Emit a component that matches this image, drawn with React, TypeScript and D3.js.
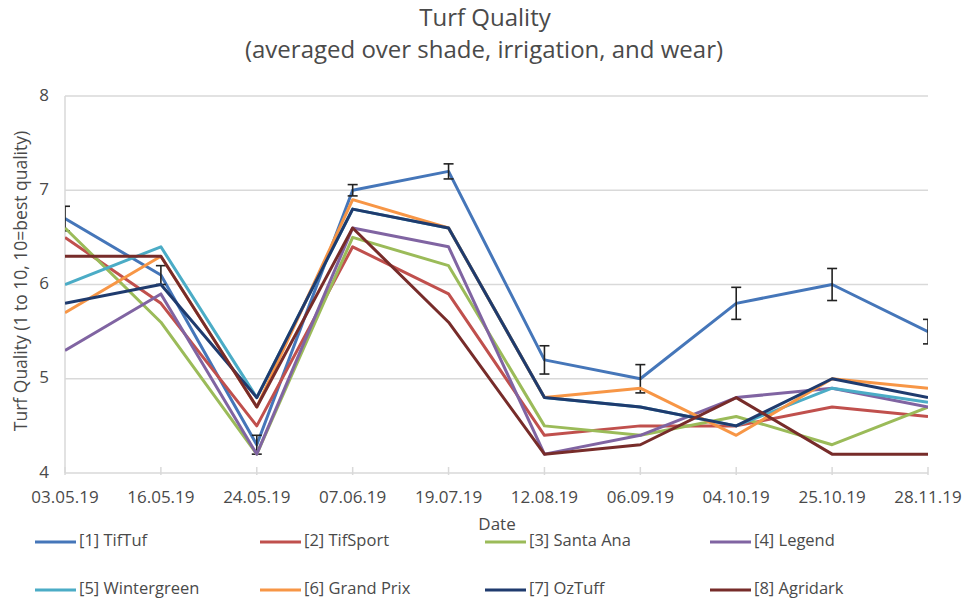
import * as React from 'react';
import * as d3 from 'd3';

// category labels (x axis)
const DATES = [
  '03.05.19', '16.05.19', '24.05.19', '07.06.19', '19.07.19',
  '12.08.19', '06.09.19', '04.10.19', '25.10.19', '28.11.19',
];

const Y_TICKS = [4, 5, 6, 7, 8];

// series values
const TIFTUF = [6.7, 6.1, 4.3, 7.0, 7.2, 5.2, 5.0, 5.8, 6.0, 5.5];
const TIFTUF_ERR = [0.13, 0.1, 0.1, 0.06, 0.08, 0.15, 0.15, 0.17, 0.17, 0.13];
const TIFSPORT = [6.5, 5.8, 4.5, 6.4, 5.9, 4.4, 4.5, 4.5, 4.7, 4.6];
const SANTA_ANA = [6.6, 5.6, 4.2, 6.5, 6.2, 4.5, 4.4, 4.6, 4.3, 4.7];
const LEGEND = [5.3, 5.9, 4.2, 6.6, 6.4, 4.2, 4.4, 4.8, 4.9, 4.7];
const WINTERGREEN = [6.0, 6.4, 4.8, 6.8, 6.6, 4.8, 4.7, 4.5, 4.9, 4.75];
const GRAND_PRIX = [5.7, 6.3, 4.7, 6.9, 6.6, 4.8, 4.9, 4.4, 5.0, 4.9];
const OZTUFF = [5.8, 6.0, 4.8, 6.8, 6.6, 4.8, 4.7, 4.5, 5.0, 4.8];
const AGRIDARK = [6.3, 6.3, 4.7, 6.6, 5.6, 4.2, 4.3, 4.8, 4.2, 4.2];

const SERIES = [
  { name: '[1] TifTuf', color: '#4576b9', values: TIFTUF },
  { name: '[2] TifSport', color: '#c0504d', values: TIFSPORT },
  { name: '[3] Santa Ana', color: '#9bbb59', values: SANTA_ANA },
  { name: '[4] Legend', color: '#8064a2', values: LEGEND },
  { name: '[5] Wintergreen', color: '#4bacc6', values: WINTERGREEN },
  { name: '[6] Grand Prix', color: '#f79646', values: GRAND_PRIX },
  { name: '[7] OzTuff', color: '#1f3b6e', values: OZTUFF },
  { name: '[8] Agridark', color: '#772c2a', values: AGRIDARK },
];

const W = 963;
const H = 604;
const FONT = '"Open Sans", "DejaVu Sans", sans-serif';
const TEXT = '#4a4a4a';

export default function App() {
  const left = 65;
  const right = 928;
  const top = 96;
  const bottom = 473;

  const x = d3.scalePoint<string>().domain(DATES).range([left, right]);
  const y = d3.scaleLinear().domain([4, 8]).range([bottom, top]);

  const line = d3
    .line<number>()
    .x((_, i) => x(DATES[i]) as number)
    .y((d) => y(d));

  // legend layout: 4 columns, 2 rows
  const legendCols = [35, 260, 485, 710];
  const legendRows = [542, 590];

  return (
    <svg
      width={W}
      height={H}
      style={{ position: 'absolute', left: 0, top: 0, display: 'block', background: '#fff' }}
      fontFamily={FONT}
    >
      <defs>
        <clipPath id="plot">
          <rect x={left} y={top - 10} width={right - left} height={bottom - top + 20} />
        </clipPath>
      </defs>

      {/* title */}
      <text x={485} y={20} textAnchor="middle" dominantBaseline="middle" fontSize={24} fill={TEXT}>
        Turf Quality
      </text>
      <text x={484} y={52} textAnchor="middle" dominantBaseline="middle" fontSize={24} fill={TEXT}>
        (averaged over shade, irrigation, and wear)
      </text>

      {/* gridlines */}
      {Y_TICKS.map((t) => (
        <g key={t}>
          <line x1={left} x2={right} y1={y(t)} y2={y(t)} stroke="#d9d9d9" strokeWidth={1.5} />
          <text x={44} y={y(t)} textAnchor="middle" dominantBaseline="middle" fontSize={17} fill={TEXT}>
            {t}
          </text>
        </g>
      ))}
      <line x1={left} x2={left} y1={top} y2={bottom} stroke="#d9d9d9" strokeWidth={1.5} />
      {DATES.map((d) => (
        <g key={d}>
          <line x1={x(d)} x2={x(d)} y1={bottom - 6} y2={bottom + 2} stroke="#d9d9d9" strokeWidth={1.5} />
          <text x={x(d)} y={498} textAnchor="middle" dominantBaseline="middle" fontSize={17} fill={TEXT}>
            {d}
          </text>
        </g>
      ))}

      {/* axis titles */}
      <text
        transform={`translate(22,281) rotate(-90)`}
        textAnchor="middle"
        dominantBaseline="middle"
        fontSize={17.5}
        fill={TEXT}
      >
        Turf Quality (1 to 10, 10=best quality)
      </text>
      <text x={497} y={525} textAnchor="middle" dominantBaseline="middle" fontSize={17} fill={TEXT}>
        Date
      </text>

      {/* series */}
      <g clipPath="url(#plot)">
        {SERIES.map((s, si) => (
          <g key={s.name}>
            <path d={line(s.values) || ''} fill="none" stroke={s.color} strokeWidth={3} strokeLinejoin="round" />
            {si === 0 &&
              s.values.map((v, i) => {
                const cx = x(DATES[i]) as number;
                const e = TIFTUF_ERR[i];
                return (
                  <g key={i} stroke="#222" strokeWidth={1.6}>
                    <line x1={cx} x2={cx} y1={y(v + e)} y2={y(v - e)} />
                    <line x1={cx - 5} x2={cx + 5} y1={y(v + e)} y2={y(v + e)} />
                    <line x1={cx - 5} x2={cx + 5} y1={y(v - e)} y2={y(v - e)} />
                  </g>
                );
              })}
          </g>
        ))}
      </g>

      {/* legend */}
      {SERIES.map((s, i) => {
        const lx = legendCols[i % 4];
        const ly = legendRows[Math.floor(i / 4)];
        return (
          <g key={s.name}>
            <line x1={lx} x2={lx + 41} y1={ly} y2={ly} stroke={s.color} strokeWidth={3} />
            <text x={lx + 44} y={ly} dominantBaseline="middle" fontSize={16.5} fill={TEXT}>
              {s.name}
            </text>
          </g>
        );
      })}
    </svg>
  );
}
